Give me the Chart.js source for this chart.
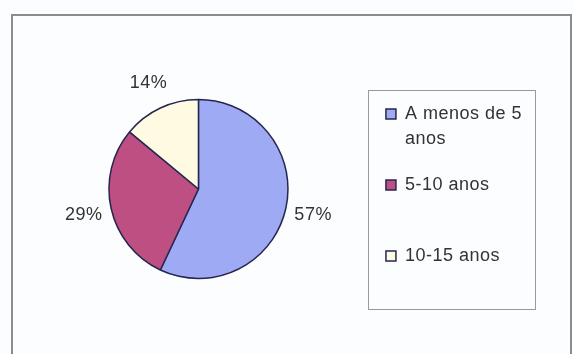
<!DOCTYPE html>
<html>
<head>
<meta charset="utf-8">
<script src="https://cdn.jsdelivr.net/npm/chart.js@4.4.1/dist/chart.umd.min.js"></script>
<style>
  html, body { margin: 0; padding: 0; background: #fbfdff; }
  #wrap { position: relative; width: 573px; height: 354px; overflow: hidden; }
  #frame { position: absolute; left: 11px; top: 14px; width: 557px; height: 420px; border: 2px solid #8c8c8c; }
  canvas { position: absolute; left: 0; top: 0; }
</style>
</head>
<body>
<div id="wrap">
  <div id="frame"></div>
  <canvas id="chart" width="573" height="354"></canvas>
</div>
<script>
// Tempo de serviço: share of respondents per range
const categories = ['A menos de 5 anos', '5-10 anos', '10-15 anos'];
const legendLines = [['A menos de 5', 'anos'], ['5-10 anos', ''], '10-15 anos'];
const shares = [57, 29, 14];
const sliceColors = ['#9eabf4', '#bd4f82', '#fffbe3'];

const FONT = '"Liberation Sans", Arial, sans-serif';
const TEXT = '#333333';

// slightly wider lettering for every text drawn on the canvas
const spacing = {
  id: 'spacing',
  beforeLayout(chart) { chart.ctx.letterSpacing = '0.5px'; },
  beforeDraw(chart) { chart.ctx.letterSpacing = '0.5px'; }
};

// percentage labels just outside each slice
const sliceLabels = {
  id: 'sliceLabels',
  afterDatasetsDraw(chart) {
    const ctx = chart.ctx;
    const meta = chart.getDatasetMeta(0);
    ctx.save();
    ctx.font = '18px ' + FONT;
    ctx.fillStyle = TEXT;
    ctx.textAlign = 'center';
    ctx.textBaseline = 'middle';
    meta.data.forEach((arc, i) => {
      const p = arc.getProps(['x', 'y', 'startAngle', 'endAngle', 'outerRadius'], true);
      const mid = (p.startAngle + p.endAngle) / 2;
      const r = p.outerRadius + 28;
      ctx.fillText(shares[i] + '%', p.x + Math.cos(mid) * r, p.y + Math.sin(mid) * r);
    });
    ctx.restore();
  }
};

// thin frame around the legend entries
const legendFrame = {
  id: 'legendFrame',
  afterDraw(chart) {
    const lg = chart.legend;
    const boxes = lg.legendHitBoxes;
    if (!boxes || !boxes.length) return;
    const left = boxes[0].left - 18;
    const top = boxes[0].top - 15;
    const right = Math.max(...boxes.map(b => b.left + b.width)) + 13;
    const bottom = lg.bottom + 15;
    const ctx = chart.ctx;
    ctx.save();
    ctx.strokeStyle = '#9a9a9a';
    ctx.lineWidth = 1;
    ctx.strokeRect(Math.round(left) + 0.5, Math.round(top) + 0.5,
                   Math.round(right - left), Math.round(bottom - top));
    ctx.restore();
  }
};

new Chart(document.getElementById('chart'), {
  type: 'pie',
  data: {
    labels: legendLines,
    datasets: [{
      label: 'Tempo',
      data: shares,
      backgroundColor: sliceColors,
      borderColor: '#26264f',
      borderWidth: 1.5,
      radius: 89.5
    }]
  },
  options: {
    responsive: false,
    devicePixelRatio: 1,
    animation: false,
    layout: { padding: { left: 32, right: 41, top: 84, bottom: 60 } },
    plugins: {
      tooltip: { enabled: false },
      legend: {
        position: 'right',
        align: 'start',
        labels: {
          boxWidth: 10,
          boxHeight: 10,
          padding: 21,
          color: TEXT,
          font: { family: FONT, size: 18, lineHeight: '25px' }
        }
      }
    }
  },
  plugins: [spacing, sliceLabels, legendFrame]
});
</script>
</body>
</html>
